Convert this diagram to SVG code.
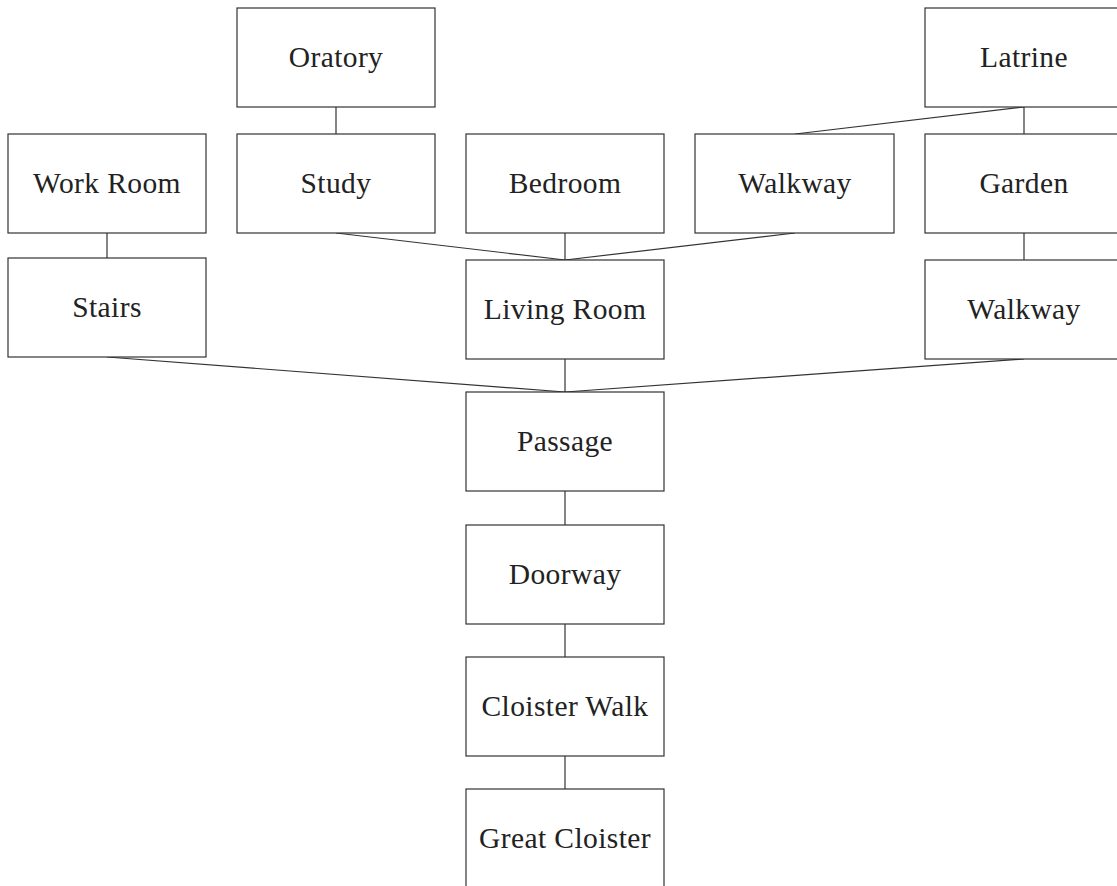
<svg xmlns="http://www.w3.org/2000/svg" width="1117" height="886" viewBox="0 0 1117 886">
  <style>
    .box { fill: #ffffff; stroke: #333333; stroke-width: 1.2; }
    .lbl { font-family: "Liberation Serif", "DejaVu Serif", serif; font-size: 29.5px; letter-spacing: 0.4px; fill: #222222; text-anchor: middle; }
    .link { stroke: #333333; stroke-width: 1.2; fill: none; }
  </style>
  <rect width="1117" height="886" fill="#ffffff"/>

  <!-- connectors -->
  <g id="connectors">
    <line class="link" x1="336" y1="107" x2="336" y2="134"/>
    <line class="link" x1="107" y1="233" x2="107" y2="260"/>
    <line class="link" x1="1024" y1="107" x2="795" y2="134"/>
    <line class="link" x1="1024" y1="107" x2="1024" y2="134"/>
    <line class="link" x1="1024" y1="233" x2="1024" y2="260"/>
    <line class="link" x1="336" y1="233" x2="565" y2="260"/>
    <line class="link" x1="565" y1="233" x2="565" y2="260"/>
    <line class="link" x1="795" y1="233" x2="565" y2="260"/>
    <line class="link" x1="107" y1="357" x2="565" y2="392"/>
    <line class="link" x1="565" y1="359" x2="565" y2="392"/>
    <line class="link" x1="1024" y1="359" x2="565" y2="392"/>
    <line class="link" x1="565" y1="491" x2="565" y2="525"/>
    <line class="link" x1="565" y1="624" x2="565" y2="657"/>
    <line class="link" x1="565" y1="756" x2="565" y2="789"/>
  </g>

  <g id="oratory"><rect class="box" x="237" y="8" width="198" height="99"/><text class="lbl" x="336" y="67">Oratory</text></g>
  <g id="latrine"><rect class="box" x="925" y="8" width="198" height="99"/><text class="lbl" x="1024" y="67">Latrine</text></g>

  <g id="work-room"><rect class="box" x="8" y="134" width="198" height="99"/><text class="lbl" x="107" y="193">Work Room</text></g>
  <g id="study"><rect class="box" x="237" y="134" width="198" height="99"/><text class="lbl" x="336" y="193">Study</text></g>
  <g id="bedroom"><rect class="box" x="466" y="134" width="198" height="99"/><text class="lbl" x="565" y="193">Bedroom</text></g>
  <g id="walkway-upper"><rect class="box" x="695" y="134" width="199" height="99"/><text class="lbl" x="795" y="193">Walkway</text></g>
  <g id="garden"><rect class="box" x="925" y="134" width="198" height="99"/><text class="lbl" x="1024" y="193">Garden</text></g>

  <g id="stairs"><rect class="box" x="8" y="258" width="198" height="99"/><text class="lbl" x="107" y="317">Stairs</text></g>
  <g id="living-room"><rect class="box" x="466" y="260" width="198" height="99"/><text class="lbl" x="565" y="319">Living Room</text></g>
  <g id="walkway-lower"><rect class="box" x="925" y="260" width="198" height="99"/><text class="lbl" x="1024" y="319">Walkway</text></g>

  <g id="passage"><rect class="box" x="466" y="392" width="198" height="99"/><text class="lbl" x="565" y="451">Passage</text></g>
  <g id="doorway"><rect class="box" x="466" y="525" width="198" height="99"/><text class="lbl" x="565" y="584">Doorway</text></g>
  <g id="cloister-walk"><rect class="box" x="466" y="657" width="198" height="99"/><text class="lbl" x="565" y="716">Cloister Walk</text></g>
  <g id="great-cloister"><rect class="box" x="466" y="789" width="198" height="120"/><text class="lbl" x="565" y="848">Great Cloister</text></g>
</svg>
